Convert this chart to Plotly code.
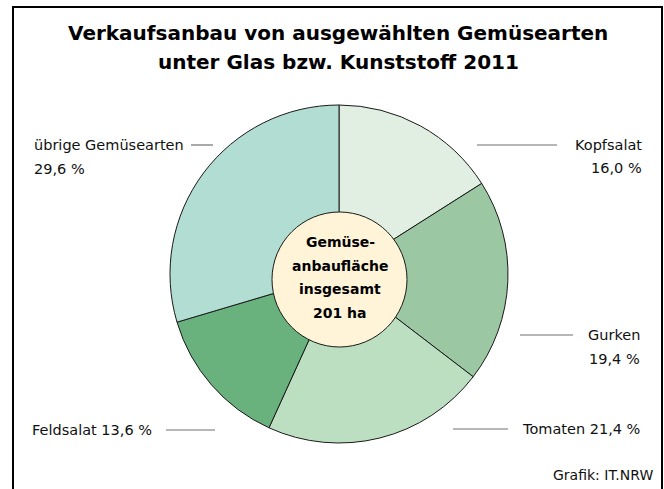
import plotly.graph_objects as go

categories = ["Kopfsalat", "Gurken", "Tomaten", "Feldsalat", "übrige Gemüsearten"]
values = [16.0, 19.4, 21.4, 13.6, 29.6]
colors = ["#e1efe2", "#9bc8a2", "#bcdfc2", "#69b17d", "#b1ddd3"]
total_ha = 201
title_lines = ["Verkaufsanbau von ausgewählten Gemüsearten", "unter Glas bzw. Kunststoff 2011"]
source = "Grafik: IT.NRW"

W, H = 664, 489
FONT = "DejaVu Sans"


def px(x):
    return x / W


def py(y):
    return 1 - y / H


def fmt(v):
    return f"{v:.1f}".replace(".", ",") + " %"


cx, cy, r = 339, 274, 169

fig = go.Figure(go.Pie(
    labels=categories,
    values=values,
    sort=False,
    direction="clockwise",
    rotation=0,
    marker=dict(colors=colors, line=dict(color="#1a1a1a", width=1)),
    textinfo="none",
    hoverinfo="label+percent",
    showlegend=False,
    domain=dict(x=[px(cx - r), px(cx + r)], y=[py(cy + r), py(cy - r)]),
))

shapes = []
# frame
shapes.append(dict(type="rect", xref="paper", yref="paper",
                   x0=px(13), x1=px(662), y0=-0.02, y1=py(7),
                   line=dict(color="black", width=2), fillcolor="rgba(0,0,0,0)"))
# center circle
shapes.append(dict(type="circle", xref="paper", yref="paper", layer="above",
                   x0=px(272), x1=px(407), y0=py(347), y1=py(212),
                   fillcolor="#fff3d8", line=dict(color="#1a1a1a", width=1)))
# leader lines
leaders = [
    (191, 213, 145),   # übrige
    (477, 557, 145),   # Kopfsalat
    (520, 573, 335),   # Gurken
    (453, 508, 429),   # Tomaten
    (166, 215, 430),   # Feldsalat
]
for x0, x1, yy in leaders:
    shapes.append(dict(type="line", xref="paper", yref="paper",
                       x0=px(x0), x1=px(x1), y0=py(yy), y1=py(yy),
                       line=dict(color="#707070", width=1.2)))

ann = []
# title
for i, t in enumerate(title_lines):
    ann.append(dict(x=px(338), y=py(33 + i * 29), xref="paper", yref="paper", showarrow=False,
                    text="<b>" + t + "</b>", font=dict(size=20, color="black", family=FONT),
                    xanchor="center", yanchor="middle"))

lab_font = dict(size=14.5, color="#111111", family=FONT)


def label(text, x, y, anchor):
    ann.append(dict(x=px(x), y=py(y), xref="paper", yref="paper", showarrow=False,
                    text=text, font=lab_font, xanchor=anchor, yanchor="middle"))


# übrige (left, two lines)
label(categories[4], 32, 145, "left")
label(fmt(values[4]), 32, 169, "left")
# Kopfsalat
label(categories[0], 644, 145, "right")
label(fmt(values[0]), 644, 168, "right")
# Gurken
label(categories[1], 642, 335, "right")
label(fmt(values[1]), 642, 359, "right")
# Tomaten
label(categories[2] + " " + fmt(values[2]), 642, 429, "right")
# Feldsalat
label(categories[3] + " " + fmt(values[3]), 30, 430, "left")
# source
ann.append(dict(x=px(655), y=py(475), xref="paper", yref="paper", showarrow=False,
                text=source, font=dict(size=14, color="#111111", family=FONT),
                xanchor="right", yanchor="middle"))

# center text
center_lines = ["Gemüse-", "anbaufläche", "insgesamt", f"{total_ha} ha"]
for i, t in enumerate(center_lines):
    ann.append(dict(x=px(340), y=py(242 + i * 23.7), xref="paper", yref="paper", showarrow=False,
                    text="<b>" + t + "</b>", font=dict(size=14, color="black", family=FONT),
                    xanchor="center", yanchor="middle"))

fig.update_layout(
    width=W, height=H,
    margin=dict(l=0, r=0, t=0, b=0),
    paper_bgcolor="white", plot_bgcolor="white",
    shapes=shapes, annotations=ann,
    font=dict(family=FONT),
)

fig.write_html("out.html", config={"displayModeBar": False},
               post_script="document.body.style.margin='0';")
